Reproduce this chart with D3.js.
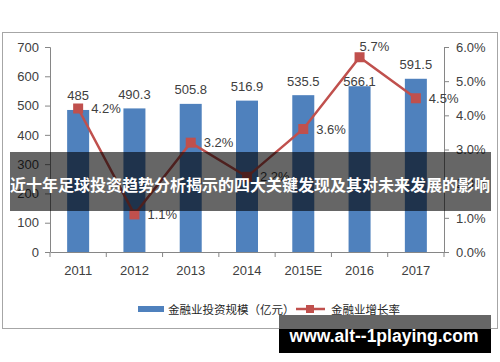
<!DOCTYPE html>
<html>
<head>
<meta charset="utf-8">
<script src="https://cdn.jsdelivr.net/npm/d3@7"></script>
<style>
  body { margin: 0; background: #fff; }
  svg { display: block; }
  .axis path, .axis line { stroke: #868686; }
  .axis text { font-family: "Liberation Sans", Arial, sans-serif; font-size: 13px; fill: #404040; }
</style>
</head>
<body>
<script>
// chart data
var years = ["2011", "2012", "2013", "2014", "2015E", "2016", "2017"];
var investment = [485, 490.3, 505.8, 516.9, 535.5, 566.1, 591.5];
var growth = [4.2, 1.1, 3.2, 2.2, 3.6, 5.7, 4.5];
var leftTicks = [0, 100, 200, 300, 400, 500, 600, 700];
var rightTicks = [0, 1, 2, 3, 4, 5, 6];
var legendLabels = ["金融业投资规模（亿元）", "金融业增长率"];
var bannerText = "近十年足球投资趋势分析揭示的四大关键发现及其对未来发展的影响";
var watermark = "www.alt--1playing.com";

var blue = "#4F81BD", red = "#C0504D";

// set the dimensions and margins of the graph
var margin = {top: 47, right: 56, bottom: 110, left: 50},
    width = 500 - margin.left - margin.right,
    height = 362 - margin.top - margin.bottom;

var svg0 = d3.select("body").append("svg")
    .attr("width", 500)
    .attr("height", 362);

// outer chart border
svg0.append("rect")
    .attr("x", 2.5).attr("y", 32.5)
    .attr("width", 495).attr("height", 296)
    .attr("fill", "#fff")
    .attr("stroke", "#a6a6a6");

var svg = svg0.append("g")
    .attr("transform", "translate(" + margin.left + "," + margin.top + ")");

// set the ranges
var x = d3.scaleBand().domain(years).range([0, width]);
var y = d3.scaleLinear().domain([0, 700]).range([height, 0]);
var y2 = d3.scaleLinear().domain([0, 6]).range([height, 0]);

var barW = 22;

// bars
svg.selectAll(".bar")
    .data(investment)
    .enter().append("rect")
    .attr("class", "bar")
    .attr("x", function(d, i) { return x(years[i]) + x.bandwidth() / 2 - barW / 2; })
    .attr("width", barW)
    .attr("y", function(d) { return y(d); })
    .attr("height", function(d) { return height - y(d); })
    .attr("fill", blue);

// axes
svg.append("g")
    .attr("class", "axis")
    .call(d3.axisLeft(y).tickValues(leftTicks).tickSize(5).tickPadding(6).tickSizeOuter(0))
    .call(function(g) { g.select(".domain").attr("d", "M-5,0.5H0.5V" + height); });

svg.append("g")
    .attr("class", "axis")
    .attr("transform", "translate(" + width + ",0)")
    .call(d3.axisRight(y2).tickValues(rightTicks).tickSize(5).tickPadding(7).tickSizeOuter(0)
        .tickFormat(function(d) { return d.toFixed(1) + "%"; }))
    .call(function(g) { g.select(".domain").attr("d", "M5,0.5H0.5V" + height); });

var xAxis = svg.append("g")
    .attr("class", "axis")
    .attr("transform", "translate(0," + height + ")")
    .call(d3.axisBottom(x).tickSize(0).tickPadding(14).tickSizeOuter(0));
// tick marks sit between the categories
xAxis.selectAll(".sep")
    .data(years.concat([""]))
    .enter().append("line")
    .attr("class", "sep")
    .attr("x1", function(d, i) { return i * x.bandwidth(); })
    .attr("x2", function(d, i) { return i * x.bandwidth(); })
    .attr("y1", 0).attr("y2", 5)
    .attr("stroke", "#868686");

var maxIdx = growth.indexOf(d3.max(growth));

// bar labels
svg.selectAll(".blabel")
    .data(investment)
    .enter().append("text")
    .attr("x", function(d, i) { return x(years[i]) + x.bandwidth() / 2; })
    .attr("y", function(d, i) { return y(d) - (i === maxIdx ? 5 : 14); })
    .attr("text-anchor", "middle")
    .attr("dominant-baseline", "central")
    .style("font-family", "Liberation Sans, Arial, sans-serif")
    .style("font-size", "13px")
    .style("fill", "#404040")
    .text(function(d) { return d; });

// growth line
var line = d3.line()
    .x(function(d, i) { return x(years[i]) + x.bandwidth() / 2; })
    .y(function(d) { return y2(d); });

svg.append("path")
    .datum(growth)
    .attr("d", line)
    .attr("fill", "none")
    .attr("stroke", red)
    .attr("stroke-width", 2.5);

svg.selectAll(".mark")
    .data(growth)
    .enter().append("rect")
    .attr("x", function(d, i) { return x(years[i]) + x.bandwidth() / 2 - 5; })
    .attr("y", function(d) { return y2(d) - 5; })
    .attr("width", 10).attr("height", 10)
    .attr("fill", red);

svg.selectAll(".glabel")
    .data(growth)
    .enter().append("text")
    .attr("x", function(d, i) { return x(years[i]) + x.bandwidth() / 2 + (i === maxIdx ? 0 : 13); })
    .attr("y", function(d, i) { return y2(d) + (i === maxIdx ? -11 : 0); })
    .attr("dominant-baseline", "central")
    .style("font-family", "Liberation Sans, Arial, sans-serif")
    .style("font-size", "13px")
    .style("fill", "#404040")
    .text(function(d) { return d.toFixed(1) + "%"; });

// legend
var lg = svg0.append("g").attr("transform", "translate(0,309)");
lg.append("rect").attr("x", 138).attr("y", -3).attr("width", 26).attr("height", 6).attr("fill", blue);
lg.append("text").attr("x", 168).attr("y", 0).attr("dominant-baseline", "central")
    .style("font-family", "Noto Sans CJK SC, sans-serif").style("font-size", "11.5px").style("fill", "#262626")
    .text(legendLabels[0]);
lg.append("line").attr("x1", 296).attr("x2", 325).attr("y1", 0).attr("y2", 0)
    .attr("stroke", red).attr("stroke-width", 2.5);
lg.append("rect").attr("x", 306).attr("y", -4).attr("width", 8).attr("height", 8).attr("fill", red);
lg.append("text").attr("x", 331).attr("y", 0).attr("dominant-baseline", "central")
    .style("font-family", "Noto Sans CJK SC, sans-serif").style("font-size", "11.5px").style("fill", "#262626")
    .text(legendLabels[1]);

// title banner over the chart
svg0.append("rect")
    .attr("x", 10).attr("y", 152).attr("width", 481).attr("height", 59)
    .attr("fill", "rgba(0,0,0,0.6)");
svg0.append("text")
    .attr("x", 250).attr("y", 184)
    .attr("text-anchor", "middle")
    .attr("dominant-baseline", "central")
    .style("font-family", "Noto Sans CJK SC, sans-serif")
    .style("font-size", "16px")
    .style("font-weight", "bold")
    .style("fill", "#fff")
    .text(bannerText);

// watermark box
svg0.append("rect").attr("x", 279).attr("y", 315).attr("width", 212).attr("height", 14).attr("fill", "#666");
svg0.append("rect").attr("x", 279).attr("y", 329).attr("width", 212).attr("height", 24).attr("fill", "#000");
svg0.append("text")
    .attr("x", 384).attr("y", 342)
    .attr("text-anchor", "middle")
    .style("font-family", "Liberation Sans, Arial, sans-serif")
    .style("font-size", "17.5px")
    .style("font-weight", "bold")
    .style("fill", "#fff")
    .text(watermark);
</script>
</body>
</html>
